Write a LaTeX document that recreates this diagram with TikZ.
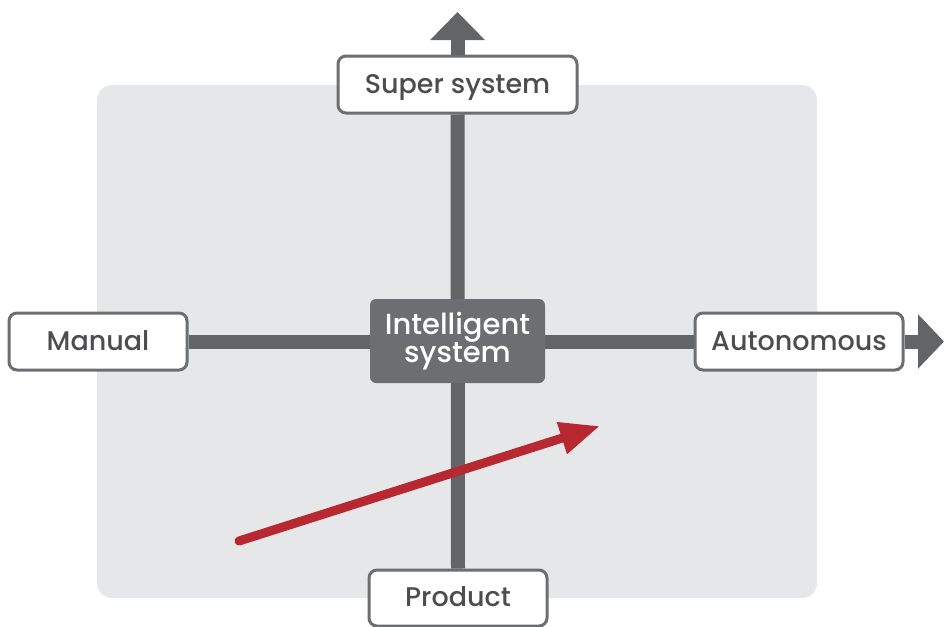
\documentclass[tikz,border=0pt]{standalone}
\usepackage{fontspec}
\setmainfont{Poppins Medium}
\usetikzlibrary{arrows.meta}
\definecolor{panel}{HTML}{E6E7E8}
\definecolor{axisgray}{HTML}{636466}
\definecolor{boxgray}{HTML}{6D6E71}
\definecolor{textgray}{HTML}{4D4D4F}
\definecolor{trendred}{HTML}{B72830}
\begin{document}
\begin{tikzpicture}[x=0.5pt, y=-0.5pt,
    label box/.style={draw=boxgray, line width=1.5pt, fill=white, rounded corners=4pt,
        text=textgray, font=\fontsize{13.5}{15}\selectfont, minimum height=28.5pt,
        text height=11pt, text depth=2.5pt, inner sep=0pt},
    axis/.style={axisgray, line width=7pt}]
    \useasboundingbox (0,0) rectangle (944,627);
    \fill[panel, rounded corners=7.5pt] (97,85) rectangle (817,598);
    \node[label box, minimum width=119.5pt] (super) at (457.5,84.5) {Super system};
    \node[label box, minimum width=89pt] (manual) at (98,341.5) {Manual};
    \node[label box, minimum width=104pt] (auto) at (799,341.5) {Autonomous};
    \node[label box, minimum width=89pt, minimum height=28pt] (product) at (458,598) {Product};
    \coordinate (uptip) at (457.5,12);
    \coordinate (righttip) at (944,341.5);
    % axes
    \draw[axis] (product.north) -- (super.south);
    \draw[axis] (manual.east) -- (auto.west);
    \draw[axis, -{Triangle[width=26.5pt, length=14pt]}] (super.north) -- (uptip);
    \draw[axis, -{Triangle[width=26.5pt, length=13pt]}] (auto.east) -- (righttip);
    \node[fill=boxgray, rounded corners=3pt, text=white, align=center, inner sep=0pt,
        minimum width=87.5pt, minimum height=42pt, font=\fontsize{14.5}{14}\selectfont]
        (hub) at (457.5,341) {Intelligent\\system};
    % trend
    \coordinate (trendstart) at (239,541);
    \coordinate (trendend) at (600,426);
    \draw[trendred, line width=4.5pt, line cap=round,
        -{Triangle[width=15.5pt, length=20pt]}] (trendstart) -- (trendend);
\end{tikzpicture}
\end{document}
